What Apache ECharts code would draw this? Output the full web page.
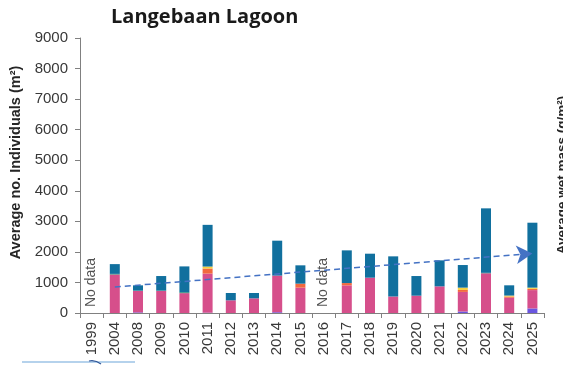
<!DOCTYPE html>
<html>
<head>
<meta charset="utf-8">
<script src="https://cdn.jsdelivr.net/npm/echarts@6/dist/echarts.min.js"></script>
<style>
  html, body { margin: 0; padding: 0; background: #fff; }
  #chart { width: 563px; height: 365px; }
</style>
</head>
<body>
<div id="chart"></div>
<script>
// Survey years on the category axis
const years = ['1999', '2004', '2008', '2009', '2010', '2011', '2012', '2013', '2014', '2015',
               '2016', '2017', '2018', '2019', '2020', '2021', '2022', '2023', '2024', '2025'];

// Mean density per group (individuals / m²); null = not sampled
const purple = [null, 0, 20, 0, 0, 10, 0, 0, 25, 0, null, 0, 0, 0, 0, 0, 50, 0, 0, 150];
const pink   = [null, 1260, 700, 720, 650, 1280, 415, 480, 1200, 830, null, 905, 1156, 540, 567, 872, 640, 1300, 500, 600];
const orange = [null, 0, 0, 0, 0, 165, 0, 0, 0, 130, null, 75, 0, 0, 0, 0, 65, 0, 40, 40];
const yellow = [null, 0, 0, 0, 0, 65, 0, 0, 0, 0, null, 0, 0, 0, 0, 0, 75, 0, 30, 40];
const green  = [null, 20, 15, 15, 30, 0, 0, 0, 0, 0, null, 0, 0, 0, 0, 0, 0, 15, 0, 0];
const blue   = [null, 320, 170, 475, 845, 1365, 240, 175, 1142, 600, null, 1070, 785, 1314, 643, 851, 740, 2110, 336, 2125];

// Years without data
const noDataYears = ['1999', '2016'];

// Trend arrow end points
const trendStart = ['2004', 850];
const trendEnd = ['2025', 1950];

const yTicks = { min: 0, max: 9000, interval: 1000 };

const FONT = "'Liberation Sans', Arial, sans-serif";

const chart = echarts.init(document.getElementById('chart'), null, { renderer: 'canvas' });

const layers = [
  { name: 'purple', data: purple, color: '#6A56E0' },
  { name: 'pink', data: pink, color: '#D64F8B' },
  { name: 'orange', data: orange, color: '#F2693D' },
  { name: 'yellow', data: yellow, color: '#F5D03E' },
  { name: 'green', data: green, color: '#2E8F72' },
  { name: 'blue', data: blue, color: '#11709E' }
];

const series = layers.map((l, i) => ({
  name: l.name,
  type: 'bar',
  stack: 'total',
  data: l.data,
  barWidth: 10,
  itemStyle: { color: l.color },
  silent: true,
  markLine: i === layers.length - 1 ? {
    silent: true,
    symbol: ['none', 'arrow'],
    symbolSize: [14, 16],
    label: { show: false },
    lineStyle: { color: '#4472C4', type: [6, 4], width: 1.5 },
    data: [[{ coord: trendStart }, { coord: trendEnd }]]
  } : undefined
}));

series.push({
  type: 'scatter',
  data: noDataYears.map(y => [y, 0]),
  symbolSize: 0,
  silent: true,
  label: {
    show: true,
    formatter: 'No data',
    position: 'inside',
    rotate: 90,
    align: 'left',
    verticalAlign: 'middle',
    offset: [6, 0],
    fontFamily: FONT,
    fontSize: 14,
    color: '#262626'
  }
});

chart.setOption({
  animation: false,
  title: {
    text: 'Langebaan Lagoon',
    left: 106,
    top: 2,
    textStyle: { fontFamily: 'Open Sans', fontWeight: 'bold', fontSize: 20, color: '#1a1a1a' }
  },
  grid: { left: 80, right: 19, top: 38, bottom: 52 },
  xAxis: {
    type: 'category',
    data: years,
    axisLine: { lineStyle: { color: '#808080', width: 1 } },
    axisTick: { show: true, length: 5, alignWithLabel: false, lineStyle: { color: '#808080' } },
    axisLabel: {
      rotate: 90,
      margin: 9,
      interval: 0,
      fontFamily: FONT,
      fontSize: 15,
      color: '#383838'
    }
  },
  yAxis: {
    type: 'value',
    min: yTicks.min,
    max: yTicks.max,
    interval: yTicks.interval,
    name: 'Average no. Individuals (m²)',
    nameLocation: 'middle',
    nameGap: 56,
    nameTextStyle: {
      fontFamily: FONT,
      fontWeight: 'bold',
      fontSize: 14.5,
      color: '#262626',
      padding: [0, 0, 0, 26]
    },
    axisLine: { show: true, lineStyle: { color: '#808080', width: 1 } },
    axisTick: { show: true, length: 5, lineStyle: { color: '#808080' } },
    splitLine: { show: false },
    axisLabel: {
      margin: 12,
      formatter: v => String(v),
      fontFamily: FONT,
      fontSize: 15,
      color: '#383838'
    }
  },
  graphic: [
    {
      type: 'text',
      x: 562,
      y: 175,
      rotation: Math.PI / 2,
      style: {
        text: 'Average wet mass (g/m²)',
        font: "bold 13.5px 'Liberation Sans', Arial, sans-serif",
        fill: '#262626',
        align: 'center',
        verticalAlign: 'middle'
      }
    },
    {
      type: 'line',
      shape: { x1: 22, y1: 362, x2: 135, y2: 362 },
      style: { stroke: '#9DC3E6', lineWidth: 1.5 }
    },
    {
      type: 'bezierCurve',
      shape: { x1: 89, y1: 361, cpx1: 95, cpy1: 359.5, x2: 101, y2: 364 },
      style: { stroke: '#2F5597', lineWidth: 1.2, fill: null }
    }
  ],
  series: series
});
</script>
</body>
</html>
